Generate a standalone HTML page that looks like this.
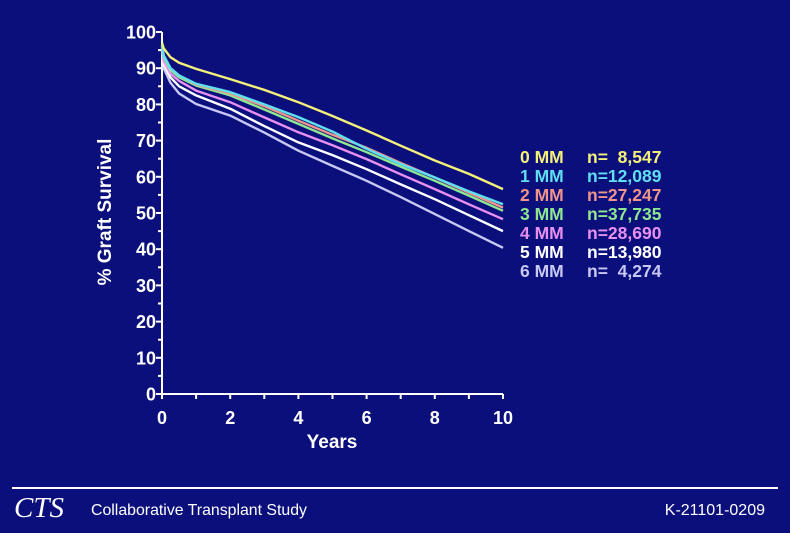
<!DOCTYPE html>
<html><head><meta charset="utf-8"><style>
html,body{margin:0;padding:0;}
body{width:790px;height:533px;background:#0b0f7c;overflow:hidden;font-family:"Liberation Sans",sans-serif;}
svg{display:block;}
</style></head><body>
<svg width="790" height="533">
<rect x="0" y="0" width="790" height="533" fill="#0b0f7c"/>
<g id="axes"></g>
<g id="series"></g>
<text x="0" y="0" transform="translate(111,212) rotate(-90)" text-anchor="middle" fill="#fff" font-size="19" font-weight="bold">% Graft Survival</text>
<text x="332" y="448" text-anchor="middle" fill="#fff" font-size="19" font-weight="bold">Years</text>
<g id="legend"></g>
<line x1="12" y1="488" x2="778" y2="488" stroke="#fff" stroke-width="2"/>
<text x="14" y="517" fill="#fff" font-family="Liberation Serif,serif" font-style="italic" font-size="29">CTS</text>
<text x="91" y="515" fill="#fff" font-size="16" textLength="216" lengthAdjust="spacingAndGlyphs">Collaborative Transplant Study</text>
<text x="765" y="515" text-anchor="end" fill="#fff" font-size="16">K-21101-0209</text>
</svg>
<script>
const years=[0,0.05,0.25,0.5,1,2,3,4,5,6,7,8,9,10];
const mm0=[97,95.5,93,91.5,89.8,87,84,80.6,76.8,72.8,68.6,64.5,60.8,56.6];
const mm1=[96.5,93.5,90,88,85.7,83.4,80,76.5,72.5,67.7,63.5,59.8,56,52.4];
const mm2=[96.5,93.5,90,88,85.5,83,79.5,75.5,71.6,68,63.8,59.8,55.6,51.5];
const mm3=[96,93,89.5,87.5,85.2,82.5,78.6,74.6,70.6,66.8,62.8,58.9,54.8,50.6];
const mm4=[96,92,88.5,86.5,83.8,80.6,76.4,72.3,68.7,64.9,60.7,56.6,52.4,48.3];
const mm5=[95.5,91,87.5,85,82.5,78.8,74,69.5,66,62.1,57.9,53.8,49.4,45];
const mm6=[95,90,86,83,80.1,76.9,72.2,67.2,63,58.9,54.4,49.7,45,40.4];
const seriesNames=["0 MM","1 MM","2 MM","3 MM","4 MM","5 MM","6 MM"];
const seriesN=["n=  8,547","n=12,089","n=27,247","n=37,735","n=28,690","n=13,980","n=  4,274"];
const colors=["#f4f07a","#5fe0f0","#f0948c","#8fe890","#e890f0","#ffffff","#c8c8f4"];
const yTicks=[0,10,20,30,40,50,60,70,80,90,100];
const xTicks=[0,2,4,6,8,10];
const NS="http://www.w3.org/2000/svg";
const X0=162,X1=503,Y0=394,Y1=32;
function sx(v){return X0+(X1-X0)*v/10;}
function sy(v){return Y0-(Y0-Y1)*v/100;}
const axes=document.getElementById('axes');
function mk(tag,at,parent){const e=document.createElementNS(NS,tag);for(const k in at)e.setAttribute(k,at[k]);parent.appendChild(e);return e;}
let l=mk('line',{x1:X0,y1:Y0,x2:X0,y2:Y1,stroke:'#fff','stroke-width':2},axes);


l=mk('line',{x1:X0,y1:Y0,x2:X1,y2:Y0,stroke:'#fff','stroke-width':2},axes);


for(let v=0;v<=100;v+=5){const t=mk('line',{x1:X0-(v%10==0?6:4),y1:sy(v),x2:X0,y2:sy(v),stroke:'#fff','stroke-width':2},axes);

}
yTicks.forEach(v=>{const t=mk('text',{x:X0-6,y:sy(v)+6.5,'text-anchor':'end',fill:'#fff','font-size':18,'font-weight':'bold'},axes);t.textContent=v;

});
for(let v=0;v<=10;v++){const t=mk('line',{x1:sx(v),y1:Y0,x2:sx(v),y2:Y0+5,stroke:'#fff','stroke-width':2},axes);

}
xTicks.forEach(v=>{const t=mk('text',{x:sx(v),y:Y0+30,'text-anchor':'middle',fill:'#fff','font-size':18,'font-weight':'bold'},axes);t.textContent=v;

});
const sg=document.getElementById('series');
const all=[mm0,mm1,mm2,mm3,mm4,mm5,mm6];
for(let i=all.length-1;i>=0;i--){const d=all[i].map((v,j)=>(j?'L':'M')+sx(years[j]).toFixed(1)+','+sy(v).toFixed(1)).join(' ');
const p=mk('path',{d:d,fill:'none',stroke:colors[i],'stroke-width':2.4,'stroke-linejoin':'round'},sg);

}
const lg=document.getElementById('legend');
seriesNames.forEach((n,i)=>{const y=163+i*19;
const a=mk('text',{x:520,y:y,fill:colors[i],'font-size':17.5,'font-weight':'bold'},lg);a.textContent=n;


const b=mk('text',{x:587,y:y,fill:colors[i],'font-size':17.5,'font-weight':'bold'},lg);b.setAttribute('style','white-space:pre');b.textContent=seriesN[i];

});
</script>
</body></html>
